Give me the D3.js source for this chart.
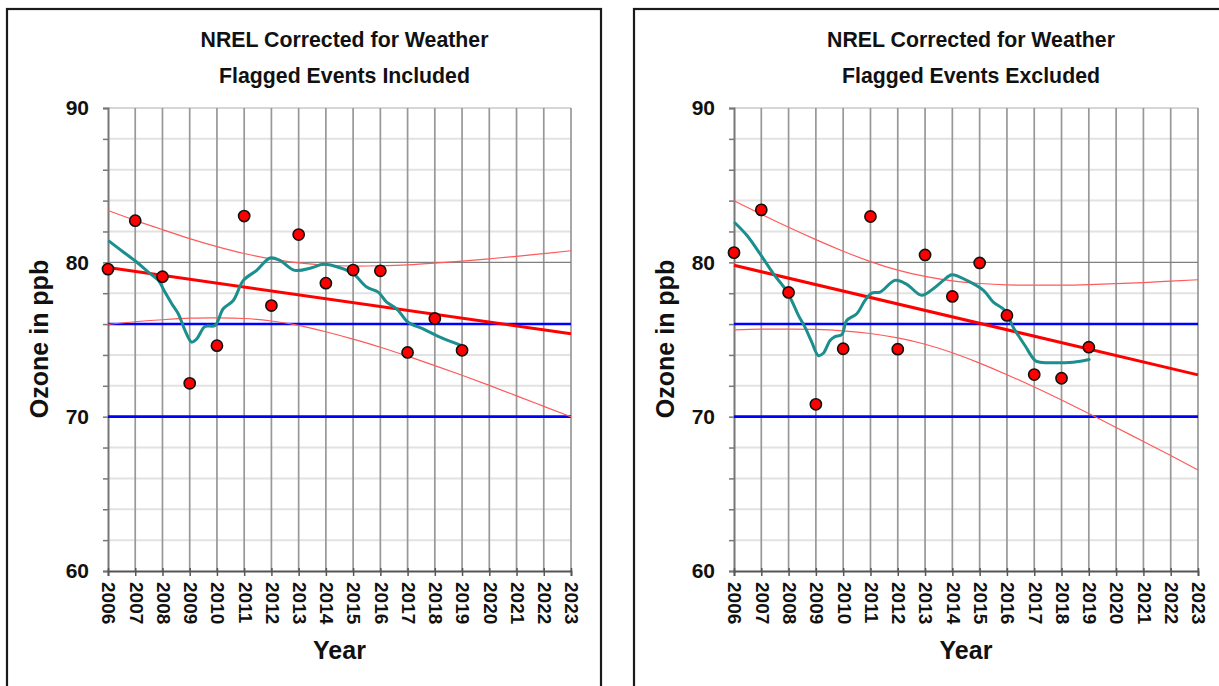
<!DOCTYPE html>
<html>
<head>
<meta charset="utf-8">
<script src="https://cdn.jsdelivr.net/npm/d3@7"></script>
<style>
  html, body { margin: 0; padding: 0; background: #ffffff; }
  svg { display: block; font-family: Arial, "Liberation Sans", sans-serif; }
</style>
</head>
<body>
<svg id="chart" width="1219" height="686"></svg>
<script>
// ---------- data ----------
const years = [2006, 2007, 2008, 2009, 2010, 2011, 2012, 2013, 2014, 2015, 2016, 2017, 2018, 2019];
const tickYears = [2006, 2007, 2008, 2009, 2010, 2011, 2012, 2013, 2014, 2015, 2016, 2017, 2018, 2019, 2020, 2021, 2022, 2023];
const yTicks = [60, 70, 80, 90];
const standardLevels = [70, 76];

const titleLine1 = "NREL Corrected for Weather";
const titleLeft = "Flagged Events Included";
const titleRight = "Flagged Events Excluded";
const yLabel = "Ozone in ppb";
const xLabel = "Year";

// Flagged events included
const includedValues = [79.56, 82.7, 79.07, 72.16, 74.6, 83.0, 77.2, 81.8, 78.65, 79.5, 79.45, 74.16, 76.36, 74.3];
const includedTrend = [[2006, 79.66], [2023, 75.37]];
const includedUpper = [83.36, 82.72, 82.12, 81.54, 81.02, 80.57, 80.22, 79.96, 79.81, 79.76, 79.78, 79.84, 79.95, 80.08, 80.23, 80.39, 80.57, 80.75];
const includedLower = [75.98, 76.15, 76.28, 76.38, 76.40, 76.36, 76.20, 75.92, 75.50, 75.02, 74.50, 73.92, 73.31, 72.68, 72.03, 71.35, 70.67, 69.99];
const includedSmooth = [
  [2006.05, 81.36], [2006.56, 80.67], [2007.05, 80.02], [2007.48, 79.37], [2007.85, 78.83],
  [2008.09, 78.07], [2008.34, 77.32], [2008.58, 76.67], [2008.83, 75.58], [2009.07, 74.83],
  [2009.26, 75.04], [2009.56, 75.84], [2009.93, 75.91], [2010.23, 76.99], [2010.60, 77.53],
  [2010.97, 78.83], [2011.46, 79.48], [2011.95, 80.28], [2012.31, 80.13], [2012.86, 79.48],
  [2013.48, 79.65], [2013.90, 79.87], [2014.52, 79.65], [2015.00, 79.27], [2015.50, 78.40],
  [2015.92, 78.07], [2016.23, 77.42], [2016.60, 76.99], [2017.02, 76.12], [2017.57, 75.69],
  [2018.19, 75.15], [2019.01, 74.59]
];

// Flagged events excluded
const excludedValues = [80.63, 83.40, 78.05, 70.80, 74.40, 82.97, 74.37, 80.48, 77.79, 79.96, 76.56, 72.73, 72.49, 74.50];
const excludedTrend = [[2006, 79.81], [2023, 72.71]];
const excludedUpper = [83.99, 83.11, 82.27, 81.47, 80.72, 80.05, 79.50, 79.09, 78.80, 78.63, 78.54, 78.52, 78.52, 78.56, 78.62, 78.69, 78.78, 78.87];
const excludedLower = [75.63, 75.67, 75.67, 75.65, 75.56, 75.39, 75.10, 74.69, 74.14, 73.47, 72.72, 71.92, 71.08, 70.20, 69.30, 68.39, 67.48, 66.55];
const excludedSmooth = [
  [2006.04, 82.55], [2006.47, 81.75], [2006.95, 80.56], [2007.44, 79.27], [2007.87, 78.29],
  [2008.11, 77.53], [2008.36, 76.56], [2008.60, 75.80], [2008.85, 74.83], [2009.09, 73.96],
  [2009.27, 74.11], [2009.52, 74.94], [2009.70, 75.19], [2009.95, 75.32], [2010.13, 76.23],
  [2010.50, 76.67], [2010.80, 77.53], [2011.05, 78.01], [2011.35, 78.07], [2011.90, 78.83],
  [2012.33, 78.57], [2012.88, 77.86], [2013.30, 78.29], [2013.67, 78.83], [2013.98, 79.20],
  [2014.53, 78.83], [2015.14, 78.18], [2015.50, 77.42], [2015.93, 76.88], [2016.23, 75.80],
  [2016.66, 74.61], [2017.03, 73.64], [2017.21, 73.53], [2018.43, 73.53], [2019.01, 73.70]
];

// ---------- drawing ----------
const svg = d3.select("#chart");
const minorLevels = d3.range(62, 90, 2);

function drawPanel(cfg) {
  const g = svg.append("g");

  // frame (extends beyond picture bottom / right)
  g.append("rect")
    .attr("x", cfg.frameX).attr("y", 9)
    .attr("width", cfg.frameW).attr("height", 720)
    .attr("fill", "#fff").attr("stroke", "#1a1a1a").attr("stroke-width", 2.2);

  const x = d3.scaleLinear().domain([2006, 2023]).range([cfg.x0, cfg.x1]);
  const y = d3.scaleLinear().domain([60, 90]).range([571, 108]);

  // titles
  const cx = (cfg.x0 + cfg.x1) / 2 + 5;
  g.append("text").attr("x", cx).attr("y", 46.5).attr("text-anchor", "middle")
    .attr("font-size", 21.3).attr("font-weight", "bold").attr("fill", "#111").text(titleLine1);
  g.append("text").attr("x", cx).attr("y", 83).attr("text-anchor", "middle")
    .attr("font-size", 21.3).attr("font-weight", "bold").attr("fill", "#111").text(cfg.subtitle);

  // minor horizontal grid
  g.selectAll(".hminor").data(minorLevels.filter(v => v !== 80)).enter().append("line")
    .attr("x1", x(2006)).attr("x2", x(2023))
    .attr("y1", d => y(d)).attr("y2", d => y(d))
    .attr("stroke", "#e2e2e2").attr("stroke-width", 2);
  // top line
  g.append("line").attr("x1", x(2006)).attr("x2", x(2023)).attr("y1", y(90)).attr("y2", y(90))
    .attr("stroke", "#c8c8c8").attr("stroke-width", 1.5);
  // vertical year grid
  g.selectAll(".vgrid").data(tickYears.slice(1)).enter().append("line")
    .attr("x1", d => x(d)).attr("x2", d => x(d))
    .attr("y1", y(90)).attr("y2", y(60))
    .attr("stroke", "#989898").attr("stroke-width", 1.7);
  // 80 line
  g.append("line").attr("x1", x(2006)).attr("x2", x(2023)).attr("y1", y(80)).attr("y2", y(80))
    .attr("stroke", "#808080").attr("stroke-width", 1.2);

  // y axis
  const yAxis = d3.axisLeft(y).tickValues(d3.range(60, 91, 2)).tickSize(5).tickFormat("");
  const ya = g.append("g").attr("transform", `translate(${x(2006)},0)`).call(yAxis);
  ya.select(".domain").attr("stroke", "#777").attr("stroke-width", 2);
  ya.selectAll(".tick line").attr("stroke", "#777").attr("stroke-width", 1.5);
  g.selectAll(".ylab").data(yTicks).enter().append("text")
    .attr("x", x(2006) - 19).attr("y", d => y(d)).attr("dy", "0.35em")
    .attr("text-anchor", "end").attr("font-size", 21).attr("font-weight", "bold")
    .attr("fill", "#111").text(d => d);

  // x axis
  const xAxis = d3.axisBottom(x).tickValues(tickYears).tickSize(5).tickFormat("");
  const xa = g.append("g").attr("transform", `translate(0,${y(60)})`).call(xAxis);
  xa.select(".domain").attr("stroke", "#555").attr("stroke-width", 1.8);
  xa.selectAll(".tick line").attr("stroke", "#555").attr("stroke-width", 1.5).attr("y1", -3);
  g.selectAll(".xlab").data(tickYears).enter().append("text")
    .attr("transform", d => `translate(${x(d) + 1},582) rotate(90)`)
    .attr("dy", "0.35em").attr("text-anchor", "start")
    .attr("font-size", 19).attr("font-weight", "bold").attr("fill", "#111").text(d => d);

  // axis titles
  g.append("text").attr("transform", `translate(${x(2006) - 60},339) rotate(-90)`)
    .attr("text-anchor", "middle").attr("font-size", 25).attr("font-weight", "bold")
    .attr("fill", "#111").text(yLabel);
  g.append("text").attr("x", (cfg.x0 + cfg.x1) / 2).attr("y", 659)
    .attr("text-anchor", "middle").attr("font-size", 25).attr("font-weight", "bold")
    .attr("fill", "#111").text(xLabel);

  // standard lines
  g.selectAll(".std").data(standardLevels).enter().append("line")
    .attr("x1", x(2006)).attr("x2", x(2023))
    .attr("y1", d => y(d)).attr("y2", d => y(d))
    .attr("stroke", "#0000ff").attr("stroke-width", 2.6);

  // confidence bands
  const band = d3.line().x((d, i) => x(tickYears[i])).y(d => y(d)).curve(d3.curveNatural);
  [cfg.upper, cfg.lower].forEach(arr => {
    g.append("path").attr("d", band(arr)).attr("fill", "none")
      .attr("stroke", "#ff5a5a").attr("stroke-width", 1.2);
  });

  // trend
  g.append("path").attr("d", d3.line().x(d => x(d[0])).y(d => y(d[1]))(cfg.trend))
    .attr("fill", "none").attr("stroke", "#ff0000").attr("stroke-width", 3);

  // smoothed line
  g.append("path")
    .attr("d", d3.line().x(d => x(d[0])).y(d => y(d[1])).curve(d3.curveCatmullRom)(cfg.smooth))
    .attr("fill", "none").attr("stroke", "#1b8e8e").attr("stroke-width", 3)
    .attr("stroke-linejoin", "round").attr("stroke-linecap", "round");

  // points
  g.selectAll(".pt").data(cfg.values).enter().append("circle")
    .attr("cx", (d, i) => x(years[i])).attr("cy", d => y(d)).attr("r", 5.6)
    .attr("fill", "#ff0000").attr("stroke", "#111").attr("stroke-width", 1.6);
}

drawPanel({
  frameX: 7, frameW: 594, x0: 108, x1: 571, subtitle: titleLeft,
  values: includedValues, trend: includedTrend, upper: includedUpper, lower: includedLower, smooth: includedSmooth
});
drawPanel({
  frameX: 634, frameW: 700, x0: 734, x1: 1198, subtitle: titleRight,
  values: excludedValues, trend: excludedTrend, upper: excludedUpper, lower: excludedLower, smooth: excludedSmooth
});
</script>
</body>
</html>
